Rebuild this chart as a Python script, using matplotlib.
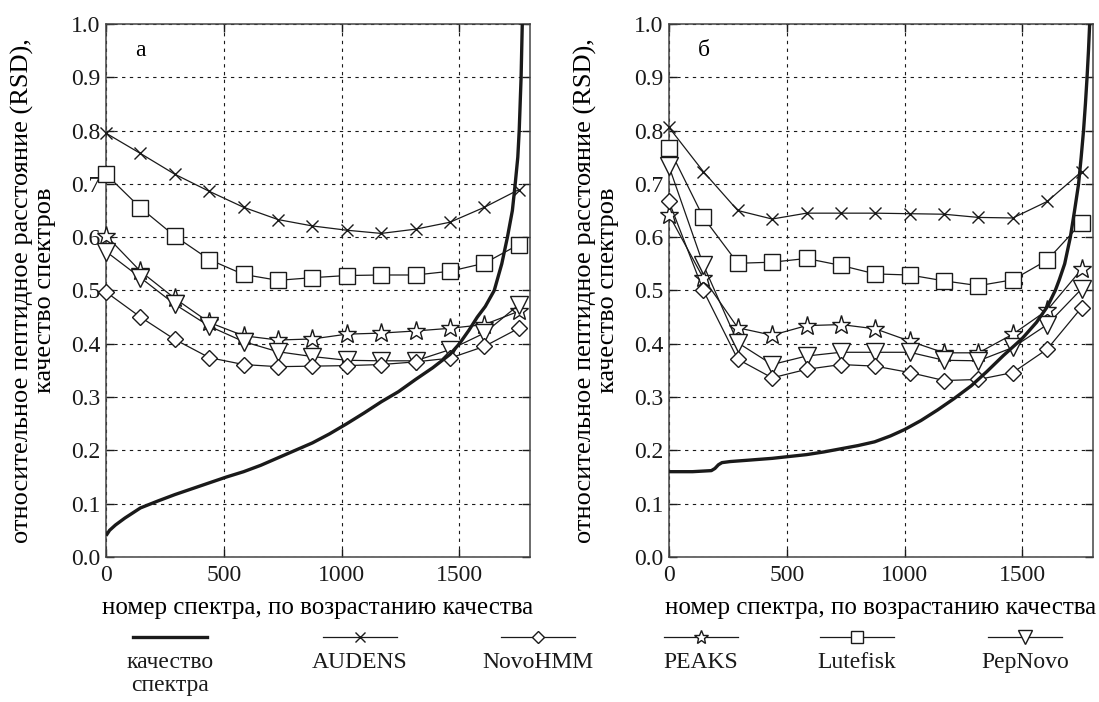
import matplotlib
matplotlib.use("Agg")
import matplotlib.pyplot as plt
from matplotlib.lines import Line2D

plt.rcParams['font.family'] = ['Liberation Serif', 'DejaVu Serif']
plt.rcParams['font.size'] = 16

# spectrum index (sorted by quality) at which RSD was evaluated
spectrum_idx = [0, 146, 292, 438, 584, 730, 876, 1022, 1168, 1314, 1460, 1606, 1752]

# panel a
audens_a = [0.795, 0.757, 0.718, 0.686, 0.656, 0.633, 0.621, 0.613, 0.607, 0.615, 0.628, 0.656, 0.689]
novohmm_a = [0.497, 0.450, 0.408, 0.374, 0.361, 0.357, 0.358, 0.359, 0.361, 0.366, 0.373, 0.395, 0.429]
peaks_a = [0.603, 0.536, 0.485, 0.440, 0.415, 0.407, 0.409, 0.418, 0.420, 0.424, 0.429, 0.436, 0.461]
lutefisk_a = [0.718, 0.655, 0.602, 0.558, 0.530, 0.519, 0.524, 0.528, 0.529, 0.529, 0.536, 0.551, 0.586]
pepnovo_a = [0.573, 0.524, 0.474, 0.433, 0.404, 0.385, 0.376, 0.369, 0.368, 0.368, 0.389, 0.420, 0.473]

quality_x_a = [0, 15, 40, 80, 146, 220, 292, 365, 438, 511, 584, 657, 730, 803, 876, 949,
               1022, 1095, 1168, 1241, 1314, 1387, 1460, 1500, 1540, 1576, 1610, 1648,
               1680, 1704, 1725, 1737, 1748, 1754, 1762, 1767]
quality_y_a = [0.040, 0.050, 0.060, 0.073, 0.092, 0.105, 0.117, 0.128, 0.139, 0.150, 0.160,
               0.172, 0.186, 0.200, 0.214, 0.231, 0.250, 0.270, 0.291, 0.310, 0.333, 0.355,
               0.380, 0.400, 0.425, 0.450, 0.470, 0.500, 0.550, 0.600, 0.650, 0.700, 0.750,
               0.800, 0.900, 1.000]

# panel б
audens_b = [0.806, 0.723, 0.650, 0.634, 0.645, 0.645, 0.645, 0.644, 0.643, 0.637, 0.636, 0.667, 0.723]
novohmm_b = [0.667, 0.500, 0.371, 0.336, 0.352, 0.361, 0.358, 0.346, 0.331, 0.333, 0.346, 0.390, 0.468]
peaks_b = [0.642, 0.523, 0.430, 0.416, 0.434, 0.436, 0.428, 0.405, 0.383, 0.383, 0.418, 0.463, 0.540]
lutefisk_b = [0.767, 0.637, 0.551, 0.553, 0.560, 0.547, 0.531, 0.529, 0.518, 0.509, 0.520, 0.557, 0.627]
pepnovo_b = [0.733, 0.548, 0.402, 0.361, 0.377, 0.384, 0.384, 0.384, 0.369, 0.368, 0.393, 0.436, 0.503]

quality_x_b = [0, 100, 180, 195, 210, 225, 260, 350, 438, 500, 584, 657, 730, 803, 873, 940,
               1000, 1070, 1141, 1210, 1283, 1350, 1420, 1500, 1560, 1607, 1640, 1657, 1680,
               1704, 1722, 1739, 1750, 1760, 1768, 1775, 1781, 1786]
quality_y_b = [0.160, 0.160, 0.162, 0.166, 0.173, 0.177, 0.179, 0.182, 0.185, 0.188, 0.192,
               0.197, 0.203, 0.209, 0.216, 0.227, 0.239, 0.256, 0.276, 0.297, 0.321, 0.348,
               0.378, 0.410, 0.440, 0.470, 0.500, 0.520, 0.550, 0.600, 0.650, 0.700, 0.750,
               0.800, 0.850, 0.900, 0.950, 1.000]

x_ticks = [0, 500, 1000, 1500]
y_ticks = [0.0, 0.1, 0.2, 0.3, 0.4, 0.5, 0.6, 0.7, 0.8, 0.9, 1.0]

legend_labels = ['качество\nспектра', 'AUDENS', 'NovoHMM', 'PEAKS', 'Lutefisk', 'PepNovo']

INK = '#1a1a1a'
marker_style = {
    'AUDENS': dict(marker='x', ms=9, mew=1.0),
    'NovoHMM': dict(marker='D', ms=8, mew=1.0),
    'PEAKS': dict(marker='*', ms=14, mew=1.0),
    'Lutefisk': dict(marker='s', ms=12, mew=1.0),
    'PepNovo': dict(marker='v', ms=13, mew=1.0),
}

fig = plt.figure(figsize=(10.99, 7.02), dpi=100)
ax_a = fig.add_axes([0.0965, 0.2066, 0.3858, 0.7593])
ax_b = fig.add_axes([0.6087, 0.2066, 0.3858, 0.7593])


def draw_panel(ax, series, qx, qy, tag):
    for name, vals in series:
        st = marker_style[name]
        ax.plot(spectrum_idx, vals, color=INK, lw=0.9, marker=st['marker'], ms=st['ms'],
                mew=st['mew'], mfc='white', mec=INK, zorder=3, clip_on=False)
    ax.plot(qx, qy, color=INK, lw=2.4, zorder=4, solid_capstyle='butt')
    ax.set_xlim(0, 1800)
    ax.set_ylim(0, 1.0)
    ax.set_xticks(x_ticks)
    ax.set_yticks(y_ticks)
    ax.set_yticklabels([f'{v:.1f}' for v in y_ticks])
    ax.grid(True, color=INK, lw=0.8, linestyle=(0, (3, 4)))
    ax.tick_params(direction='in', length=6, width=1, top=True, right=True,
                   labelsize=17, pad=4, colors=INK)
    ax.tick_params(axis='x', pad=6)
    for sp in ax.spines.values():
        sp.set_linewidth(1.1)
        sp.set_color('#444444')
    ax.set_axisbelow(True)
    ax.set_xlabel('номер спектра, по возрастанию качества', fontsize=18, labelpad=8)
    ax.set_ylabel('относительное пептидное расстояние (RSD),\nкачество спектров',
                  fontsize=19, linespacing=1.0)
    ax.yaxis.set_label_coords(-0.118, 0.5)
    ax.text(0.068, 0.95, tag, transform=ax.transAxes, fontsize=17, va='center')


draw_panel(ax_a, [('AUDENS', audens_a), ('Lutefisk', lutefisk_a), ('PEAKS', peaks_a),
                  ('PepNovo', pepnovo_a), ('NovoHMM', novohmm_a)],
           quality_x_a, quality_y_a, 'а')
draw_panel(ax_b, [('AUDENS', audens_b), ('Lutefisk', lutefisk_b), ('PEAKS', peaks_b),
                  ('PepNovo', pepnovo_b), ('NovoHMM', novohmm_b)],
           quality_x_b, quality_y_b, 'б')

# legend row: line sample on top, caption underneath
centers_px = [170, 360, 538, 701, 857, 1025]
W, H = 1099.0, 702.0
line_y = 1 - 637 / H
half = 37 / W
for i, (cx, lab) in enumerate(zip(centers_px, legend_labels)):
    fx = cx / W
    if i == 0:
        fig.add_artist(Line2D([fx - half, fx + half], [line_y, line_y], color=INK, lw=2.4,
                              transform=fig.transFigure))
    else:
        st = marker_style[lab]
        fig.add_artist(Line2D([fx - half, fx + half], [line_y, line_y], color=INK, lw=0.9,
                              transform=fig.transFigure))
        fig.add_artist(Line2D([fx], [line_y], color=INK, lw=0, marker=st['marker'],
                              ms=st['ms'] * 0.75, mew=1.0, mfc='white', mec=INK,
                              transform=fig.transFigure))
    fig.text(fx, 1 - 652 / H, lab, ha='center', va='top', fontsize=17, linespacing=1.1,
             color=INK)

fig.savefig('out.png', dpi=100)
